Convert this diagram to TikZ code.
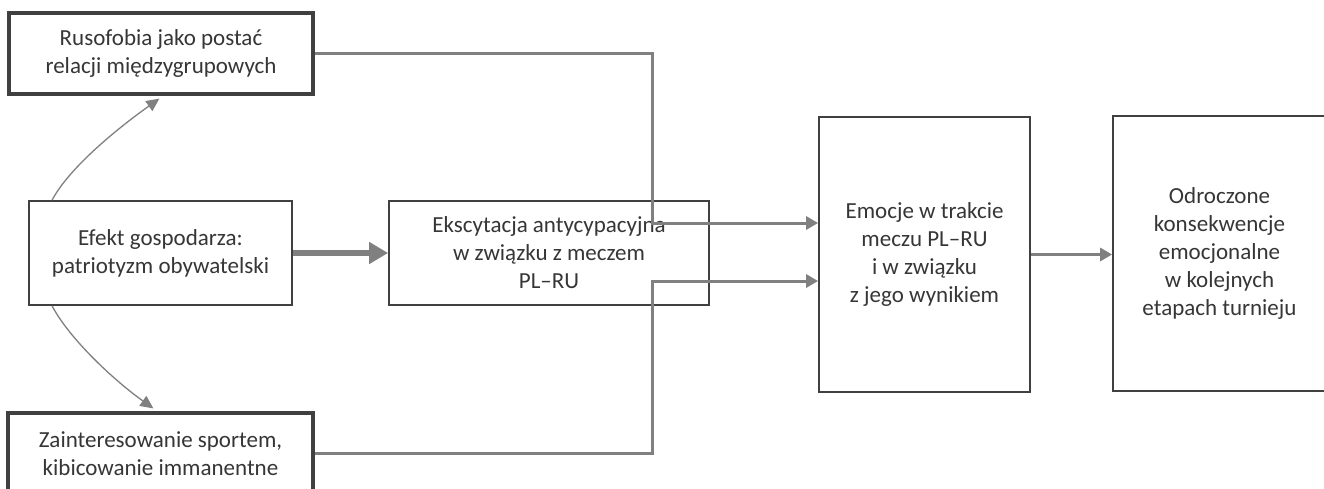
\documentclass[tikz,border=0pt]{standalone}
\usepackage{fontspec}
\setmainfont{Carlito}
\usetikzlibrary{arrows.meta,calc}
\definecolor{boxline}{HTML}{404040}
\definecolor{boxtext}{HTML}{363636}
\definecolor{linkgray}{HTML}{808080}
\tikzset{
  box/.style={draw=boxline, line width=1.8pt, text=boxtext, align=center,
    inner sep=0pt, font=\fontsize{23}{28}\selectfont},
  heavybox/.style={box, line width=3.2pt},
  link/.style={draw=linkgray, line width=3pt,
    -{Triangle[length=12pt,width=13pt]}},
  mainlink/.style={draw=linkgray, line width=5.4pt,
    -{Triangle[length=19pt,width=21pt]}},
  curvelink/.style={draw=linkgray, line width=1.3pt,
    -{Triangle[length=13pt,width=12pt]}},
}
\begin{document}
\begin{tikzpicture}[x=1pt,y=-1pt]
\clip (0,0) rectangle (1324,488);
\fill[white] (0,0) rectangle (1324,488);

% boxes
\node[heavybox, minimum width=304pt, minimum height=81pt] (R) at (161,53.5)
  {Rusofobia jako postać\\relacji międzygrupowych};
\node[box, minimum width=263pt, minimum height=104pt] (E) at (160.5,253)
  {Efekt gospodarza:\\patriotyzm obywatelski};
\node[heavybox, minimum width=305pt, minimum height=81pt] (Z) at (160.5,453.5)
  {Zainteresowanie sportem,\\kibicowanie immanentne};
\node[box, minimum width=320pt, minimum height=104pt] (X) at (549,253)
  {Ekscytacja antycypacyjna\\w związku z meczem\\PL–RU};
\node[box, minimum width=211pt, minimum height=275pt] (M) at (924.5,254.5)
  {Emocje w trakcie\\meczu PL–RU\\i w związku\\z jego wynikiem};
\node[box, minimum width=213pt, minimum height=275pt] (O) at (1219.5,253.5)
  {Odroczone\\konsekwencje\\emocjonalne\\w kolejnych\\etapach turnieju};

% helper coordinates for the elbow connectors
\coordinate (xv) at (652,0);
\coordinate (y1) at (0,223);
\coordinate (y2) at (0,281);

% connectors
\draw[mainlink] (E.east) -- (X.west);
\draw[link] (R.east) -| (xv |- y1) -- (M.west |- y1);
\draw[link] (Z.east) -| (xv |- y2) -- (M.west |- y2);
\draw[link] (M.east) -- (M.east -| O.west);

% curved arrows from the host-effect box
\coordinate (s1) at ([xshift=24pt]E.north west);
\coordinate (t1) at ([xshift=152pt,yshift=-3pt]R.south west);
\coordinate (s2) at ([xshift=24pt]E.south west);
\coordinate (t2) at ([xshift=147pt,yshift=3pt]Z.north west);
\draw[curvelink] (s1) .. controls +(18,-34) and +(-38,27) .. (t1);
\draw[curvelink] (s2) .. controls +(18,34) and +(-38,-27) .. (t2);
\end{tikzpicture}
\end{document}
